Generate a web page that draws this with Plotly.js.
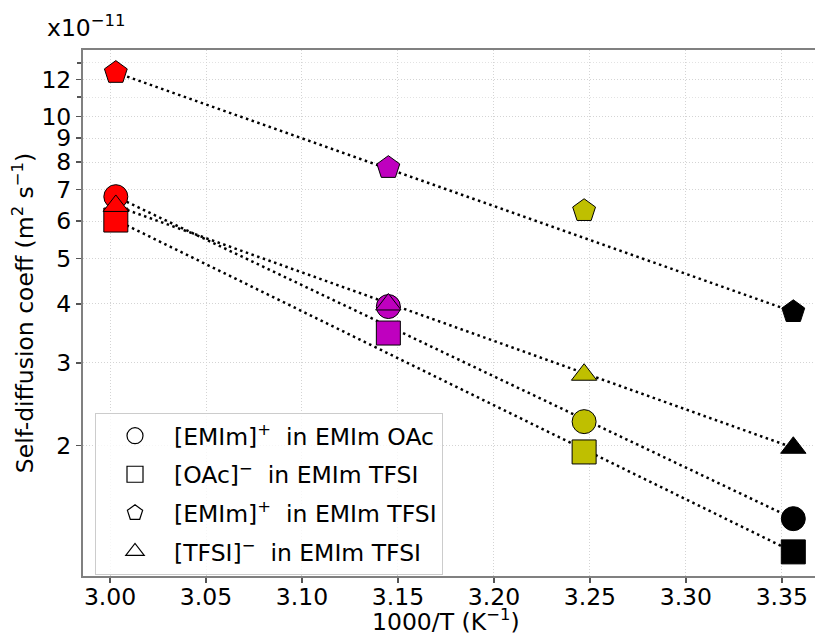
<!DOCTYPE html>
<html>
<head>
<meta charset="utf-8">
<script src="https://cdn.plot.ly/plotly-3.0.1.min.js"></script>
<style>html,body{margin:0;padding:0;background:#fff;overflow:hidden;}#chart{width:815px;height:636px;}</style>
</head>
<body>
<div id="chart"></div>
<script>
// 1000/T (K^-1) for T = 333, 318, 308, 298 K
const invT = [3.003, 3.145, 3.247, 3.356];
// self-diffusion coefficients in units of 1e-11 m^2 s^-1
const emimInOAc = [6.76, 3.95, 2.25, 1.40];
const oacInTFSI = [6.03, 3.47, 1.94, 1.19];
const emimInTFSI = [12.4, 7.79, 6.31, 3.85];
const tfsiInTFSI = [6.46, 3.99, 2.83, 1.98];
const pointColors = ['#ff0000', '#bf00bf', '#bfbf00', '#000000'];
const seriesNames = ['[EMIm]<sup>+</sup>  in EMIm OAc', '[OAc]<sup>−</sup>  in EMIm TFSI', '[EMIm]<sup>+</sup>  in EMIm TFSI', '[TFSI]<sup>−</sup>  in EMIm TFSI'];
const seriesData = [emimInOAc, oacInTFSI, emimInTFSI, tfsiInTFSI];
const symbols = ['circle', 'square', 'pentagon', 'triangle-up'];
const sizes = [24, 24, 24, 22];
const yTickVals = [2, 3, 4, 5, 6, 7, 8, 9, 10, 12];
const yTickText = ['2', '3', '4', '5', '6', '7', '8', '9', '10', '12'];
const yMinorVals = [11, 13];
const xTickVals = [3.00, 3.05, 3.10, 3.15, 3.20, 3.25, 3.30, 3.35];
const xTickText = ['3.00', '3.05', '3.10', '3.15', '3.20', '3.25', '3.30', '3.35'];

const FONT = 'DejaVu Sans, sans-serif';
const traces = [];
// dotted guide lines (first to last point of each series)
seriesData.forEach((d) => {
  const n = d.length - 1;
  traces.push({
    x: [invT[0], invT[n]], y: [d[0], d[n]], mode: 'lines', type: 'scatter',
    line: {color: '#000', width: 2.5, dash: '2.5px,3.5px'}, showlegend: false, hoverinfo: 'skip'
  });
});
// data markers
seriesData.forEach((d, i) => {
  traces.push({
    x: invT, y: d, mode: 'markers', type: 'scatter', showlegend: false,
    marker: {symbol: symbols[i], size: sizes[i], color: pointColors, line: {color: '#000', width: 1}}
  });
});
// legend entries (hollow symbols)
seriesData.forEach((d, i) => {
  traces.push({
    x: [null], y: [null], mode: 'markers', type: 'scatter', name: seriesNames[i], legendgroup: 'g' + i,
    marker: {symbol: symbols[i], size: 16, color: '#fff', line: {color: '#000', width: 1.2}}
  });
});

const layout = {
  width: 815, height: 636,
  margin: {l: 83, r: 0, t: 50, b: 60},
  paper_bgcolor: '#fff', plot_bgcolor: '#fff',
  font: {family: FONT, size: 23.5, color: '#000'},
  showlegend: true,
  legend: {
    x: 0.0164, y: 0.31, xanchor: 'left', yanchor: 'top',
    bgcolor: 'rgba(255,255,255,0.8)', bordercolor: '#cccccc', borderwidth: 1,
    font: {family: FONT, size: 23.5, color: '#000'},
    traceorder: 'grouped', tracegroupgap: 5, itemwidth: 68
  },
  xaxis: {
    range: [2.9859, 3.3673], tickvals: xTickVals, ticktext: xTickText,
    ticks: 'outside', ticklen: 5, tickcolor: '#555', tickwidth: 1.5, ticklabelstandoff: -6,
    showline: true, linecolor: '#808080', linewidth: 2, mirror: true,
    showgrid: true, gridcolor: '#d4d4d4', griddash: '1px,2px', gridwidth: 1,
    zeroline: false
  },
  yaxis: {
    type: 'log', range: [Math.log10(1.0576), Math.log10(13.85)],
    tickvals: yTickVals, ticktext: yTickText,
    ticks: 'outside', ticklen: 5, tickcolor: '#555', tickwidth: 1.5,
    minor: {tickvals: yMinorVals, ticks: 'outside', ticklen: 4, tickcolor: '#555', showgrid: true, gridcolor: '#e2e2e2', griddash: '1px,2px'},
    showline: true, linecolor: '#808080', linewidth: 2, mirror: true,
    showgrid: true, gridcolor: '#d4d4d4', griddash: '1px,2px', gridwidth: 1,
    zeroline: false,
    title: {text: 'Self-diffusion coeff (m<sup>2</sup> s<sup>−1</sup>)', font: {family: FONT, size: 23.5}, standoff: 1}
  },
  annotations: [{
    xref: 'paper', yref: 'paper', x: -0.052, y: 1, xanchor: 'left', yanchor: 'bottom', yshift: 6,
    text: 'x10<sup>−11</sup>', showarrow: false, font: {family: FONT, size: 23.5, color: '#000'}
  }, {
    xref: 'paper', yref: 'paper', x: 0.496, y: -0.114, xanchor: 'center', yanchor: 'bottom', yshift: -2,
    text: '1000/T (K<sup>−1</sup>)', showarrow: false, font: {family: FONT, size: 23.5, color: '#000'}
  }]
};

Plotly.newPlot('chart', traces, layout, {displayModeBar: false, staticPlot: true});
</script>
</body>
</html>
